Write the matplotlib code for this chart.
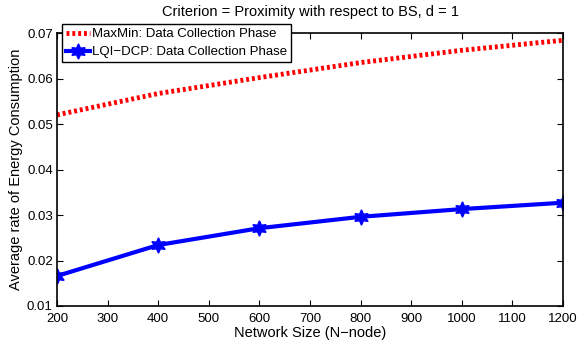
import matplotlib
matplotlib.use("Agg")
import matplotlib.pyplot as plt

plt.rcParams['font.family'] = ['Liberation Sans', 'DejaVu Sans']

network_size = [200, 400, 600, 800, 1000, 1200]
maxmin = [0.0520, 0.0567, 0.0602, 0.0635, 0.0662, 0.0684]
lqi_dcp = [0.0166, 0.0234, 0.0271, 0.0296, 0.0313, 0.0327]
xticks = [200, 300, 400, 500, 600, 700, 800, 900, 1000, 1100, 1200]
yticks = [0.01, 0.02, 0.03, 0.04, 0.05, 0.06, 0.07]

fig = plt.figure(figsize=(5.79, 3.43), dpi=100)
ax = fig.add_axes([57/579, 1-306/343, (563-57)/579, (306-33)/343])

ax.plot(network_size, maxmin, color='red', linestyle=(0, (0.6, 0.6)), linewidth=3.5,
        label='MaxMin: Data Collection Phase')
ax.plot(network_size, lqi_dcp, color='blue', linewidth=3, marker=(6, 1, 0), markersize=11,
        label='LQI\u2212DCP: Data Collection Phase')

ax.set_xlim(200, 1200)
ax.set_ylim(0.01, 0.07)
ax.set_xticks(xticks)
ax.set_xticklabels([str(v) for v in xticks])
ax.set_yticks(yticks)
ax.set_yticklabels(['%.2f' % v for v in yticks])
ax.tick_params(direction='in', top=True, right=True, labelsize=9.5, length=4)
ax.tick_params(axis='x', pad=5)
ax.tick_params(axis='y', pad=3)
for s in ax.spines.values():
    s.set_linewidth(1.2)

ax.set_xlabel('Network Size (N\u2212node)', fontsize=10.5, labelpad=1)
ax.set_ylabel('Average rate of Energy Consumption', fontsize=10.5, labelpad=3)
ax.set_title('Criterion = Proximity with respect to BS, d = 1', fontsize=10.5, pad=12)

leg = ax.legend(loc='upper left', bbox_to_anchor=(5/506, 1 + 9/273), fontsize=9.5,
                frameon=True, fancybox=False, framealpha=1, edgecolor='black',
                borderpad=0.3, labelspacing=0.45, handlelength=1.8, handletextpad=0.15,
                borderaxespad=0)
leg.get_frame().set_linewidth(1.0)

fig.savefig('out.png', dpi=100)
